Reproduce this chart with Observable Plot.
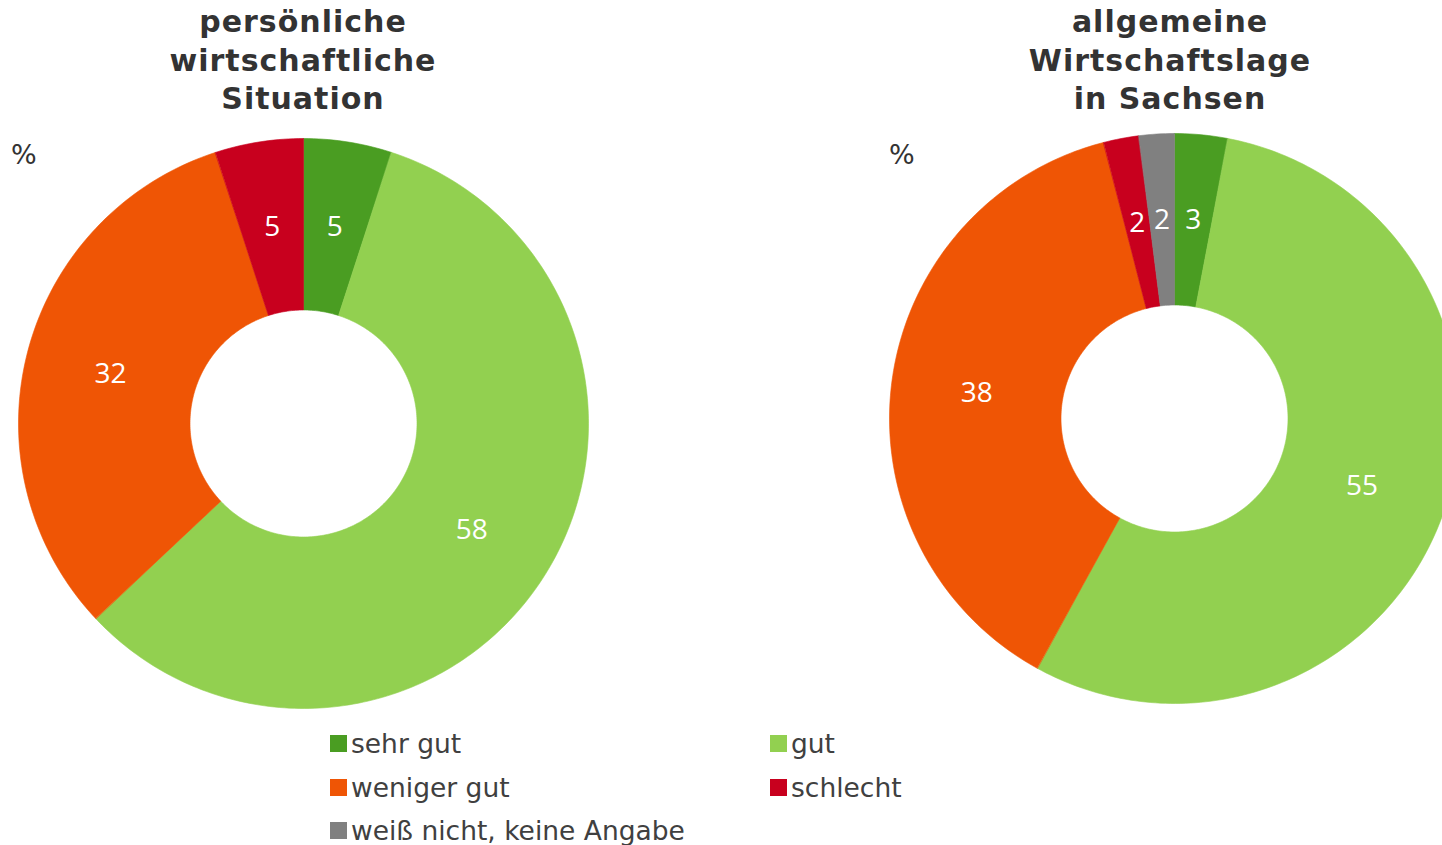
<!DOCTYPE html>
<html>
<head>
<meta charset="utf-8">
<script src="https://cdn.jsdelivr.net/npm/d3@7"></script>
<script src="https://cdn.jsdelivr.net/npm/@observablehq/plot@0.6"></script>
<style>
  html, body { margin: 0; padding: 0; background: #fff; }
  body { position: relative; width: 1442px; height: 845px; overflow: hidden; }
  .title { position: absolute; width: 460px; text-align: center; font-family: "DejaVu Sans", Verdana, sans-serif; font-weight: bold; font-size: 30px; letter-spacing: 1px; line-height: 38.5px; color: #333; }
  .unit { position: absolute; font-family: "DejaVu Sans", sans-serif; font-size: 27px; color: #333; line-height: 30px; }
  .chart { position: absolute; overflow: visible; }
  .legend-item { position: absolute; display: flex; align-items: center; font-family: "DejaVu Sans", Verdana, sans-serif; font-size: 26.5px; color: #404040; height: 30px; white-space: nowrap; }
  .swatch { width: 17px; height: 17px; margin-right: 4px; }
</style>
</head>
<body>
<script>
// ---- data ----
const categories = ["sehr gut", "gut", "weniger gut", "schlecht", "weiß nicht, keine Angabe"];
const categoryColors = ["#4a9d22", "#92d050", "#ef5505", "#c8001e", "#808080"];
const personalValues = [5, 58, 32, 5, 0];      // persönliche wirtschaftliche Situation
const generalValues = [3, 55, 38, 2, 2];       // allgemeine Wirtschaftslage in Sachsen
const personalTitle = ["persönliche", "wirtschaftliche", "Situation"];
const generalTitle = ["allgemeine", "Wirtschaftslage", "in Sachsen"];
const unitLabel = "%";

// ---- layout ----
const OUTER = 285, INNER = 113.5, PAD = 4;
const INNER_LAT = 90 - 90 * INNER / OUTER;
const LABEL_LAT = 90 - 90 * ((OUTER + INNER) / 2) / OUTER;
const toLon = (angle) => 180 - angle; // clockwise angle from top -> longitude

function slices(values) {
  const total = d3.sum(values);
  let acc = 0;
  return categories.map((c, i) => {
    const a0 = acc / total * 360;
    acc += values[i];
    const a1 = acc / total * 360;
    return {category: c, value: values[i], a0, a1};
  }).filter(d => d.value > 0);
}

function ringFeature(d) {
  const n = Math.max(2, Math.ceil(d.a1 - d.a0));
  const outer = d3.range(n + 1).map(k => [toLon(d.a0 + (d.a1 - d.a0) * k / n), 0]);
  const inner = d3.range(n + 1).map(k => [toLon(d.a1 - (d.a1 - d.a0) * k / n), INNER_LAT]);
  return {type: "Feature", properties: {category: d.category},
          geometry: {type: "Polygon", coordinates: [[...outer, ...inner, outer[0]]]}};
}

function donut(values, cx, cy) {
  const data = slices(values);
  const features = data.map(ringFeature);
  const plot = Plot.plot({
    width: 2 * (OUTER + PAD), height: 2 * (OUTER + PAD), margin: PAD,
    projection: {
      type: "azimuthal-equidistant", rotate: [0, -90],
      domain: {type: "MultiPoint", coordinates: [[0, 0], [90, 0], [180, 0], [-90, 0]]}
    },
    color: {domain: categories, range: categoryColors},
    marks: [
      Plot.geo(features, {fill: d => d.properties.category, stroke: d => d.properties.category, strokeWidth: 0.6}),
      Plot.text(data, {
        x: d => toLon((d.a0 + d.a1) / 2), y: () => LABEL_LAT,
        text: d => String(d.value), fill: "white", fontSize: 28, fontFamily: "Open Sans, sans-serif"
      })
    ]
  });
  plot.classList.add("chart");
  plot.style.left = (cx - OUTER - PAD) + "px";
  plot.style.top = (cy - OUTER - PAD) + "px";
  document.body.appendChild(plot);
}

function addTitle(lines, cx) {
  const t = document.createElement("div");
  t.className = "title";
  t.style.left = (cx - 230) + "px";
  t.style.top = "3px";
  t.innerHTML = lines.join("<br>");
  document.body.appendChild(t);
}

function addUnit(x) {
  const u = document.createElement("div");
  u.className = "unit";
  u.textContent = unitLabel;
  u.style.left = x + "px";
  u.style.top = "140px";
  document.body.appendChild(u);
}

donut(personalValues, 302.5, 422.5);
donut(generalValues, 1174, 418);
addTitle(personalTitle, 303);
addTitle(generalTitle, 1170);
addUnit(11);
addUnit(889);

// legend
const legendCols = [330, 770];
const legendRows = [743, 787, 830];
categories.forEach((c, i) => {
  const item = document.createElement("div");
  item.className = "legend-item";
  item.style.left = legendCols[i % 2] + "px";
  item.style.top = (legendRows[Math.floor(i / 2)] - 15) + "px";
  const sw = document.createElement("div");
  sw.className = "swatch";
  sw.style.background = categoryColors[i];
  const label = document.createElement("span");
  label.textContent = c;
  item.appendChild(sw);
  item.appendChild(label);
  document.body.appendChild(item);
});
</script>
</body>
</html>
